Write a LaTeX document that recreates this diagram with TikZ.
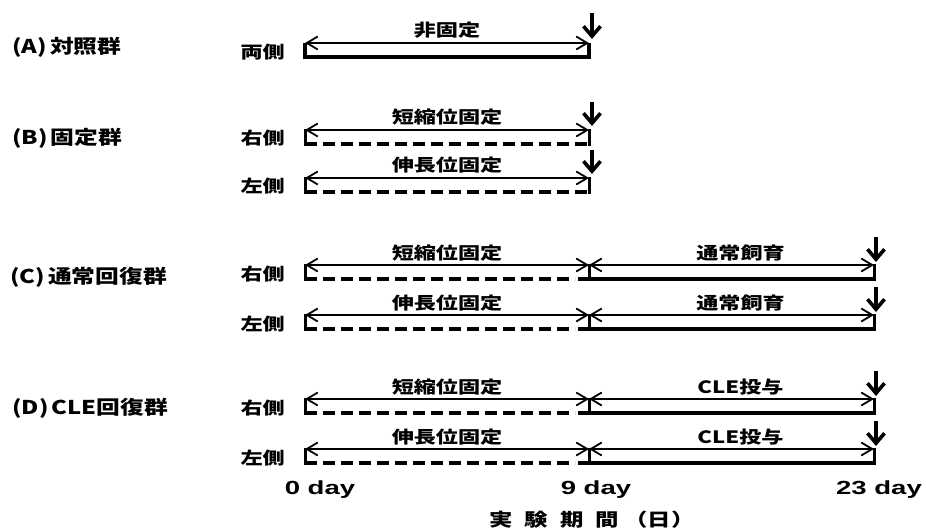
\documentclass[tikz,border=0pt]{standalone}
\usepackage{fontspec}
\usetikzlibrary{arrows.meta}
\newfontfamily\jpfont[FakeStretch=1.3]{Noto Sans CJK JP}
\newfontfamily\grpfont[FakeStretch=1.25]{Noto Sans CJK JP}
\newfontfamily\dayfont[FakeStretch=1.45]{Liberation Sans}
\tikzset{
  grplab/.style={anchor=west, inner sep=0pt, font=\grpfont\bfseries\fontsize{19}{19}\selectfont},
  sidelab/.style={anchor=east, inner sep=0pt, font=\jpfont\bfseries\fontsize{17}{17}\selectfont},
  barlab/.style={inner sep=0pt, font=\jpfont\bfseries\fontsize{17}{17}\selectfont},
  daylab/.style={anchor=base, inner sep=0pt, font=\dayfont\bfseries\fontsize{19}{19}\selectfont},
  span/.style={line width=1.8pt, {Straight Barb[length=11pt,width=13pt]}-{Straight Barb[length=11pt,width=13pt]}},
  solidbar/.style={line width=3.5pt},
  dashbar/.style={line width=3.5pt, dash pattern=on 12pt off 6pt},
  post/.style={line width=3pt, line cap=rect},
  endmark/.style={line width=3.6pt, -{Straight Barb[length=10pt,width=17pt]}},
}
\begin{document}
\begin{tikzpicture}[x=1pt,y=-1pt]
\useasboundingbox (0,0) rectangle (926,530);
% bar rows: bottom line at 0, 9 and 23 day
\foreach \r/\y in {a/57, ba/144, bb/192, ca/279, cb/329, da/413, db/463}{
  \coordinate (\r0) at (305,\y);
  \coordinate (\r9) at (589,\y);
  \coordinate (\r23) at (874,\y);
  \coordinate (\r0t) at (305,\y-14);
  \coordinate (\r9t) at (589,\y-14);
  \coordinate (\r23t) at (874,\y-14);
}

% (A)
\node[grplab] (gA) at (12,47) {(A)\,対照群};
\node[sidelab] (sA) at (285,52) {両側};
\draw[solidbar] (a0t) -- (a0) -- (a9) -- (a9t);
\draw[span] (a0t) -- (a9t) node[barlab, midway, yshift=13pt] (tA) {非固定};
\draw[endmark] ([xshift=3pt,yshift=30pt]a9t) -- ([xshift=3pt,yshift=4pt]a9t);

% (B)
\node[grplab] (gB) at (12,138) {(B)\,固定群};
\foreach \r/\side/\txt in {ba/右側/短縮位固定, bb/左側/伸長位固定}{
  \node[sidelab] (s\r) at ([xshift=-20pt,yshift=6pt]\r0) {\side};
  \draw[post] (\r0t) -- (\r0);
  \draw[dashbar] (\r0) -- (\r9);
  \draw[post] (\r9) -- (\r9t);
  \draw[span] (\r0t) -- (\r9t) node[barlab, midway, yshift=13pt] (t\r) {\txt};
  \draw[endmark] ([xshift=3pt,yshift=28pt]\r9t) -- ([xshift=3pt,yshift=4pt]\r9t);
}

% (C) and (D)
\node[grplab] (gC) at (10,277) {(C)\,通常回復群};
\node[grplab] (gD) at (12,408) {(D)\,CLE回復群};
\foreach \r/\side/\txt/\rest in {ca/右側/短縮位固定/通常飼育, cb/左側/伸長位固定/通常飼育,
    da/右側/短縮位固定/CLE投与, db/左側/伸長位固定/CLE投与}{
  \node[sidelab] (s\r) at ([xshift=-20pt,yshift=5pt]\r0) {\side};
  \draw[post] (\r0t) -- (\r0);
  \draw[dashbar] (\r0) -- ([xshift=-14pt]\r9);
  \draw[solidbar] ([xshift=-11pt]\r9) -- (\r23);
  \draw[post] (\r9) -- (\r9t);
  \draw[post] (\r23) -- (\r23t);
  \draw[span] (\r0t) -- (\r9t) node[barlab, midway, yshift=12pt] (t\r) {\txt};
  \draw[span] (\r9t) -- (\r23t) node[barlab, midway, xshift=9pt, yshift=12pt] (u\r) {\rest};
  \draw[endmark] ([xshift=2pt,yshift=28pt]\r23t) -- ([xshift=2pt,yshift=3pt]\r23t);
}

% time axis
\node[daylab] (day0) at (320,494) {0 day};
\node[daylab] (day9) at (596,494) {9 day};
\node[daylab] (day23) at (879,494) {23 day};
\node[barlab, font=\jpfont\bfseries\fontsize{18}{18}\selectfont] (title) at (592,520)
  {実\hspace{12pt}験\hspace{12pt}期\hspace{12pt}間\hspace{5pt}（日）};
\end{tikzpicture}
\end{document}
